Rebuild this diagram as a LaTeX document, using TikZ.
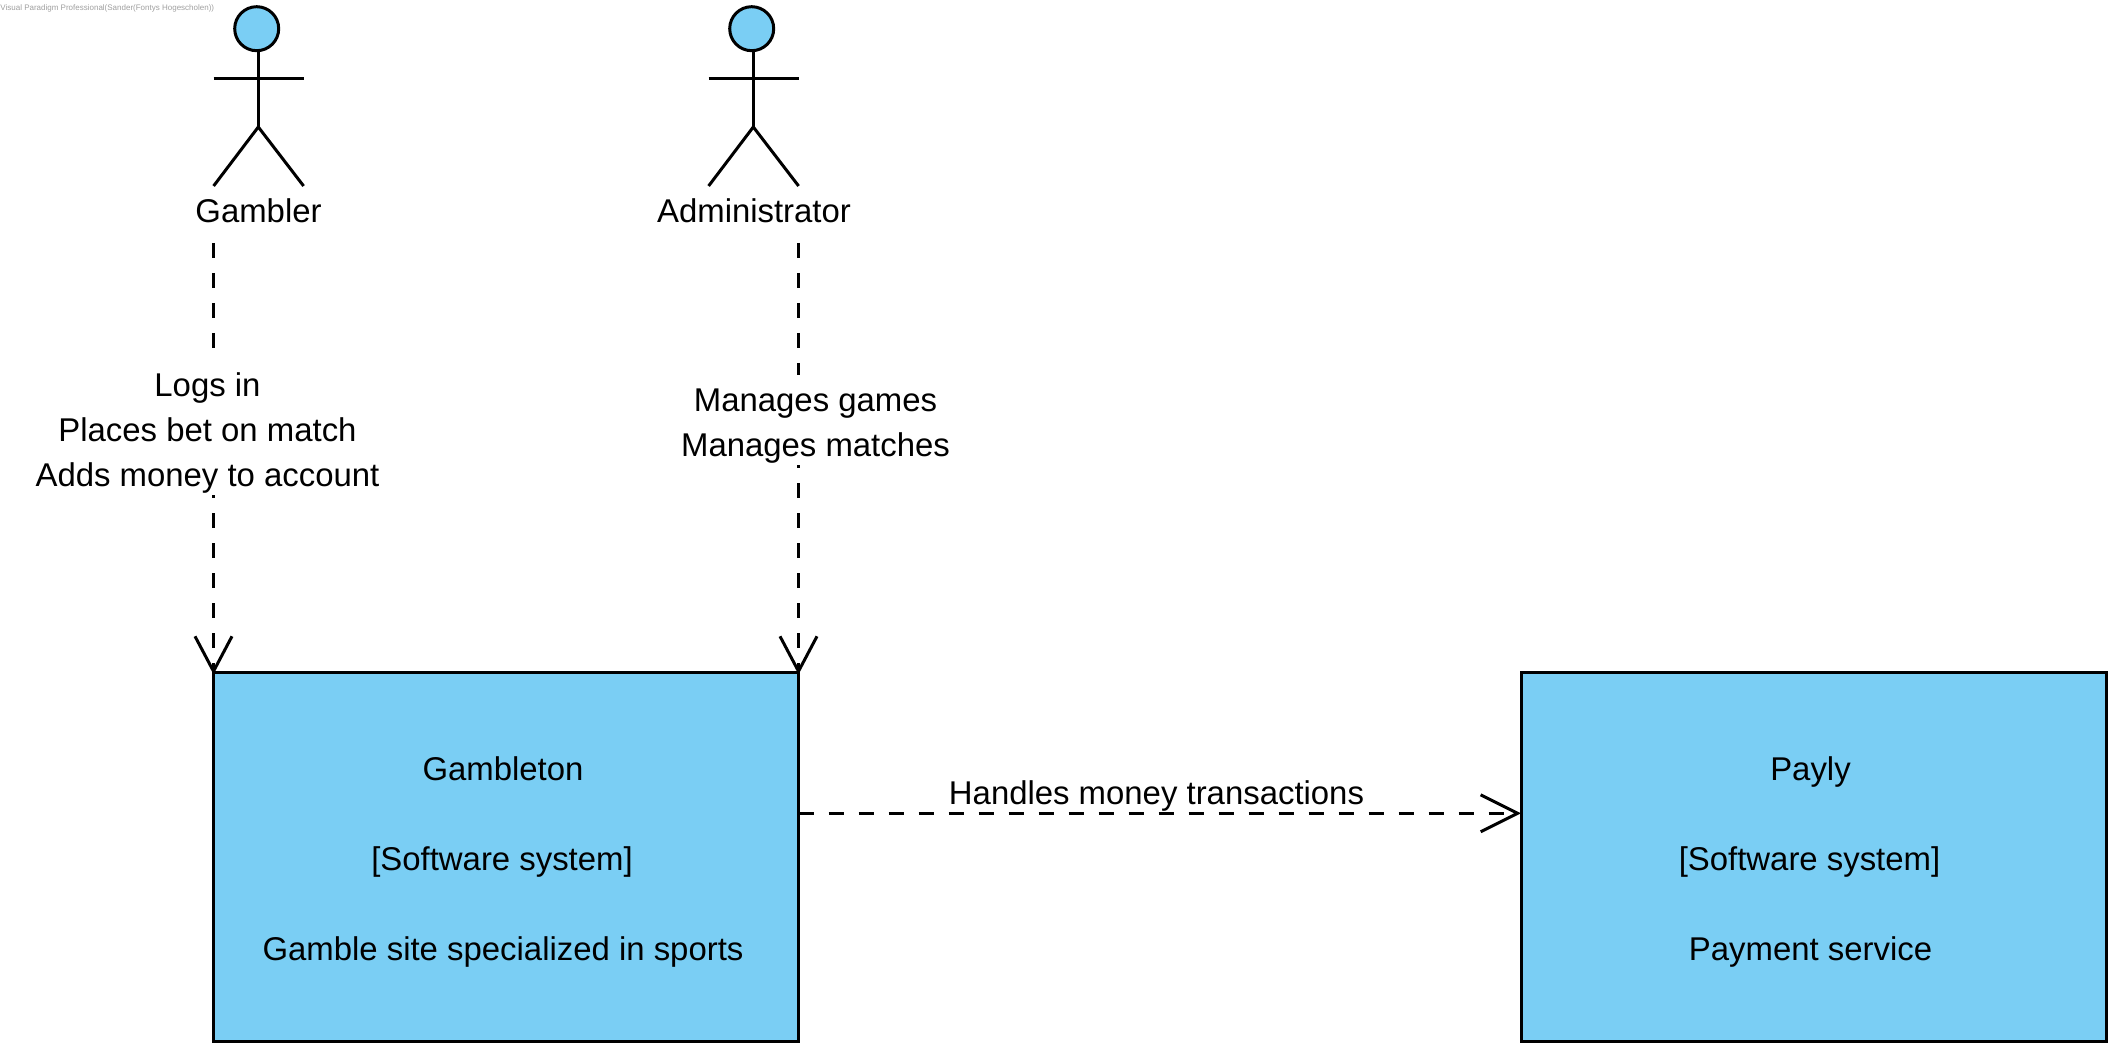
\documentclass[tikz,border=0pt]{standalone}
\usepackage{fontspec}
\setmainfont{Liberation Sans}
\usetikzlibrary{arrows.meta}
\definecolor{vpblue}{HTML}{7ACEF4}
\newcommand{\shft}{\hspace*{3pt}}
\newcommand{\topstrut}[1]{\rule{0pt}{#1}}
\newcommand{\botstrut}[1]{\rule[-#1]{0pt}{#1}}
\tikzset{
  px/.style={x=0.5pt,y=-0.5pt},
  ink/.style={draw=black,line width=1.5pt},
  txt/.style={font=\fontsize{16.45}{22.5}\selectfont},
  sysbox/.style={ink,txt,fill=vpblue,rectangle,anchor=north west,minimum width=292.5pt,minimum height=184.5pt,align=center,inner sep=0pt,outer sep=0pt},
  lbl/.style={txt,inner sep=0pt,anchor=base},
  maskedlbl/.style={txt,inner sep=0pt,align=center,fill=white},
  headshape/.style={ink,fill=vpblue,circle,minimum size=22pt,inner sep=0pt,outer sep=0pt},
  dep/.style={ink,dash pattern=on 7.5pt off 7.5pt},
  vdep/.style={dep,shorten >=-1pt,-{Straight Barb[length=17.5pt,width=18.5pt,line width=1.5pt]}},
  hdep/.style={dep,-{Straight Barb[length=18.5pt,width=18.5pt,line width=1.5pt]}},
  limb/.style={ink,line cap=butt},
}
\begin{document}
\begin{tikzpicture}[px]
\useasboundingbox (0,0) rectangle (2118,1053);
% watermark
\node[anchor=west,inner sep=0pt,text=gray!75,font=\fontsize{4}{5}\selectfont] (wm) at (0,8) {Visual Paradigm Professional(Sander(Fontys Hogescholen))};
% boxes
\node[sysbox] (gambleton) at (213.5,672.5) {\topstrut{17.5pt}Gambleton\shft\\[22.5pt]\mbox{[Software system]\hspace*{4pt}}\\[22.5pt]\botstrut{4pt}Gamble site specialized in sports\shft};
\node[sysbox] (payly) at (1521,672.5) {\topstrut{17.5pt}Payly\shft\\[22.5pt]\mbox{[Software system]\hspace*{4pt}}\\[22.5pt]\botstrut{4pt}Payment service\shft};
% actor gambler
\node[headshape] (ghead) at (256.7,28.7) {};
\coordinate (gneck) at (258.3,51);
\coordinate (ghip) at (258.3,127);
\draw[limb] (gneck) -- (ghip);
\coordinate (gla) at (213.6,78.3);
\coordinate (gra) at (303.6,78.3);
\draw[limb] (gla) -- (gra);
\coordinate (gll) at (213.6,186);
\coordinate (grl) at (303.6,186);
\draw[limb] (gll) -- (ghip) -- (grl);
\node[lbl] (gambler) at (258.5,222.7) {Gambler};
% actor administrator
\node[headshape] (ahead) at (751.7,28.7) {};
\coordinate (aneck) at (753.3,51);
\coordinate (ahip) at (753.3,127);
\draw[limb] (aneck) -- (ahip);
\coordinate (ala) at (708.6,78.3);
\coordinate (ara) at (798.6,78.3);
\draw[limb] (ala) -- (ara);
\coordinate (all) at (708.6,186);
\coordinate (arl) at (798.6,186);
\draw[limb] (all) -- (ahip) -- (arl);
\node[lbl] (admin) at (754,222.7) {Administrator};
% connectors
\coordinate (gstart) at (213.5,243);
\coordinate (astart) at (798.5,243);
\draw[vdep] (gstart) -- (gambleton.north west);
\draw[vdep] (astart) -- (gambleton.north east);
\node[maskedlbl] (gl) at (207.5,422.5) {\topstrut{23pt}Logs in\\Places bet on match\\\botstrut{4.5pt}Adds money to account};
\node[maskedlbl] (al) at (815.5,420) {\topstrut{18pt}Manages games\\\botstrut{4.5pt}Manages matches};
\coordinate (hy) at (0,813.3);
\draw[hdep] (gambleton.east |- hy) -- (payly.west |- hy);
\node[lbl] (hl) at (1156.5,804) {Handles money transactions};
\end{tikzpicture}
\end{document}
